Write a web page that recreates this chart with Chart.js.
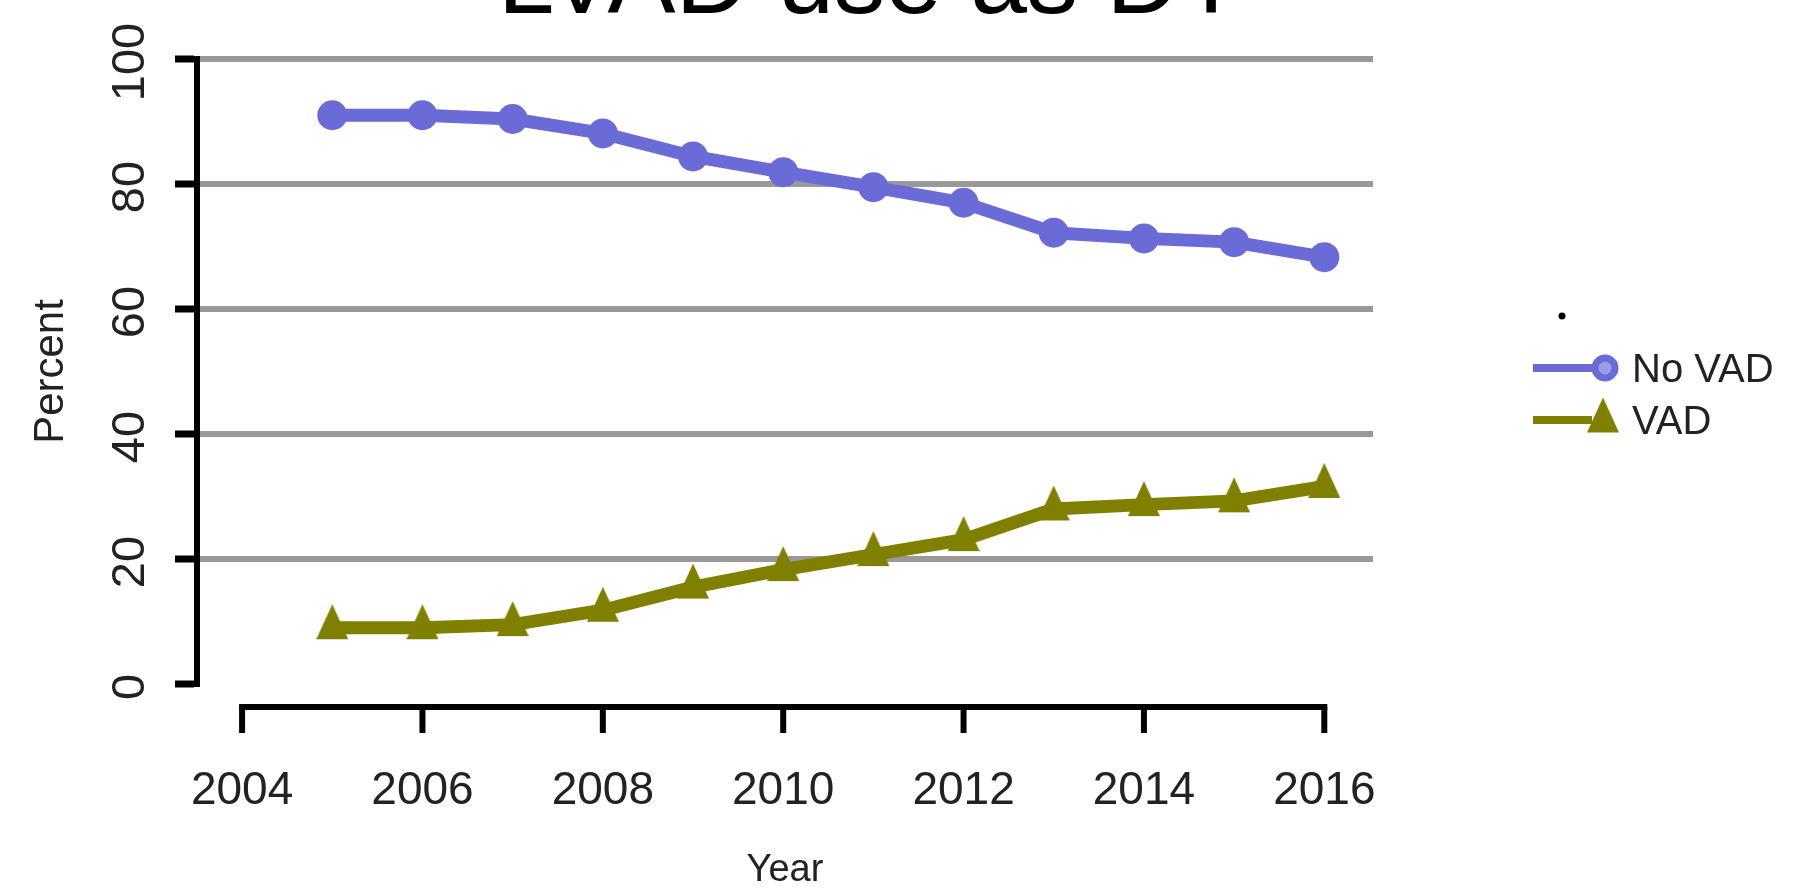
<!DOCTYPE html>
<html>
<head>
<meta charset="utf-8">
<script src="https://cdn.jsdelivr.net/npm/chart.js@4.4.1/dist/chart.umd.min.js"></script>
<style>
  html, body { margin: 0; padding: 0; background: #ffffff; overflow: hidden; }
  canvas { display: block; }
</style>
</head>
<body>
<canvas id="chart" width="1793" height="892"></canvas>
<script>
// ---- data ----
const years = [2005, 2006, 2007, 2008, 2009, 2010, 2011, 2012, 2013, 2014, 2015, 2016];
const noVad = [91.0, 91.0, 90.4, 88.1, 84.4, 81.9, 79.5, 77.0, 72.2, 71.3, 70.7, 68.3];
const vad   = [9.0, 9.0, 9.5, 11.8, 15.5, 18.3, 20.7, 23.1, 28.0, 28.7, 29.3, 31.6];
const xTickYears = [2004, 2006, 2008, 2010, 2012, 2014, 2016];
const yTickValues = [0, 20, 40, 60, 80, 100];
const seriesNames = ['No VAD', 'VAD'];
const chartTitle = 'LVAD use as DT';
const xTitle = 'Year';
const yTitle = 'Percent';

const FONT = '"Liberation Sans", Arial, sans-serif';
const PURPLE = '#6B6BD8';
const OLIVE = '#808000';
const TEXT = '#222222';

// Filled isosceles triangle used as a point marker; the image centre sits
// two thirds of the way down so the line passes through the marker's centroid.
function makeTriangle(color, w, h) {
  const c = document.createElement('canvas');
  const cy = h * 2 / 3;
  c.width = w;
  c.height = Math.round(cy * 2);
  const g = c.getContext('2d');
  g.fillStyle = color;
  g.beginPath();
  g.moveTo(w / 2, 0);
  g.lineTo(w, h);
  g.lineTo(0, h);
  g.closePath();
  g.fill();
  return c;
}
const triangleMarker = makeTriangle(OLIVE, 32, 35);

// Title, detached x axis, rotated y tick labels and the legend.
const decorations = {
  id: 'decorations',
  afterDraw(chart) {
    const ctx = chart.ctx;
    const xs = chart.scales.x;
    const ys = chart.scales.y;
    const area = chart.chartArea;
    ctx.save();

    // title (sits partly above the top edge)
    ctx.fillStyle = '#000';
    ctx.font = '102px ' + FONT;
    ctx.textAlign = 'center';
    ctx.textBaseline = 'alphabetic';
    ctx.fillText(chartTitle, 870, 13);

    // x axis drawn below the plot, spanning the first to last tick
    const axisY = area.bottom + 23;
    const x0 = xs.getPixelForValue(xTickYears[0]);
    const x1 = xs.getPixelForValue(xTickYears[xTickYears.length - 1]);
    ctx.strokeStyle = '#000';
    ctx.lineWidth = 6;
    ctx.lineCap = 'square';
    ctx.beginPath();
    ctx.moveTo(x0, axisY);
    ctx.lineTo(x1, axisY);
    ctx.stroke();
    ctx.lineCap = 'butt';
    xTickYears.forEach(v => {
      const px = xs.getPixelForValue(v);
      ctx.beginPath();
      ctx.moveTo(px, axisY);
      ctx.lineTo(px, axisY + 26);
      ctx.stroke();
    });

    // y tick labels, rotated
    ctx.fillStyle = TEXT;
    ctx.font = '47px ' + FONT;
    ctx.textAlign = 'center';
    ctx.textBaseline = 'middle';
    yTickValues.forEach(v => {
      ctx.save();
      ctx.translate(131, ys.getPixelForValue(v) + 3);
      ctx.rotate(-Math.PI / 2);
      ctx.fillText(String(v), 0, 0);
      ctx.restore();
    });

    // legend
    ctx.fillStyle = '#000';
    ctx.beginPath();
    ctx.arc(1562, 316, 3.5, 0, Math.PI * 2);
    ctx.fill();

    const rows = [368, 420];
    chart.data.datasets.forEach((ds, i) => {
      const y = rows[i];
      ctx.strokeStyle = ds.borderColor;
      ctx.lineWidth = 8;
      ctx.beginPath();
      ctx.moveTo(1533, y);
      ctx.lineTo(1592, y);
      ctx.stroke();
      if (ds.pointStyle === 'circle') {
        ctx.fillStyle = '#9c9ce6';
        ctx.beginPath();
        ctx.arc(1605, y, 10, 0, Math.PI * 2);
        ctx.fill();
        ctx.lineWidth = 7;
        ctx.stroke();
      } else {
        const img = ds.pointStyle;
        ctx.drawImage(img, 1603 - img.width / 2, y + 1 - img.height / 2);
      }
      ctx.fillStyle = TEXT;
      ctx.font = '40px ' + FONT;
      ctx.textAlign = 'left';
      ctx.textBaseline = 'middle';
      ctx.fillText(ds.label, 1632, y + 3);
    });

    ctx.restore();
  }
};

new Chart(document.getElementById('chart'), {
  type: 'line',
  data: {
    datasets: [
      {
        label: seriesNames[0],
        data: years.map((yr, i) => ({ x: yr, y: noVad[i] })),
        borderColor: PURPLE,
        backgroundColor: PURPLE,
        borderWidth: 13,
        pointStyle: 'circle',
        pointRadius: 15,
        pointHoverRadius: 15,
        pointBorderWidth: 0,
        tension: 0
      },
      {
        label: seriesNames[1],
        data: years.map((yr, i) => ({ x: yr, y: vad[i] })),
        borderColor: OLIVE,
        backgroundColor: OLIVE,
        borderWidth: 13,
        pointStyle: triangleMarker,
        pointRadius: 15,
        pointHoverRadius: 15,
        pointBorderWidth: 0,
        tension: 0
      }
    ]
  },
  options: {
    responsive: false,
    animation: false,
    devicePixelRatio: 1,
    layout: { padding: { left: 0, top: 59, right: 420, bottom: 0 } },
    plugins: {
      legend: { display: false },
      title: { display: false },
      tooltip: { enabled: false }
    },
    scales: {
      x: {
        type: 'linear',
        min: 2003.5,
        max: 2016.54,
        afterBuildTicks: s => { s.ticks = xTickYears.map(v => ({ value: v })); },
        afterFit: s => { s.height = 208; },
        grid: { display: false },
        border: { display: false },
        ticks: {
          autoSkip: false,
          maxRotation: 0,
          minRotation: 0,
          padding: 76,
          color: TEXT,
          font: { family: FONT, size: 46, lineHeight: 1 },
          callback: v => String(v)
        },
        title: {
          display: true,
          text: xTitle,
          color: TEXT,
          font: { family: FONT, size: 38, lineHeight: 1 },
          padding: { top: 0, bottom: 2 }
        }
      },
      y: {
        min: 0,
        max: 100,
        z: 1,
        afterBuildTicks: s => { s.ticks = yTickValues.map(v => ({ value: v })); },
        afterFit: s => { s.width = 197; },
        ticks: { display: false },
        grid: {
          color: c => (c.tick && c.tick.value === 0 ? 'rgba(0,0,0,0)' : '#999999'),
          lineWidth: 6,
          drawTicks: true,
          tickLength: 22,
          tickColor: '#000000',
          tickWidth: 7
        },
        border: { display: true, color: '#000000', width: 6 },
        title: {
          display: true,
          text: yTitle,
          color: TEXT,
          font: { family: FONT, size: 42, lineHeight: 1 },
          padding: { top: 30, bottom: 0 }
        }
      }
    }
  },
  plugins: [decorations]
});
</script>
</body>
</html>
